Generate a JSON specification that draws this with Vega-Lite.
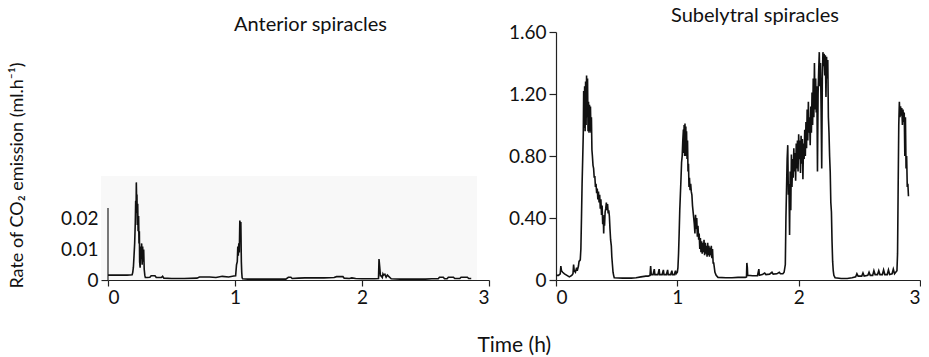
{
  "$schema": "https://vega.github.io/schema/vega-lite/v6.json",
  "padding": {"left": 7, "top": 6, "right": 0, "bottom": 0},
  "config": {
    "font": "Lato",
    "view": {"stroke": null},
    "axis": {"domainColor": "#222", "tickColor": "#222", "domainWidth": 1.2, "tickWidth": 1.2, "labelColor": "#111", "labelFontSize": 19, "labelFont": "Lato", "grid": false, "tickSize": 7, "labelPadding": 3, "titleColor": "#111", "titleFontWeight": "normal", "titleFontSize": 18, "titleFont": "Lato"},
    "axisX": {"tickSize": 6, "labelPadding": 2},
    "title": {"fontSize": 20, "fontWeight": "normal", "color": "#111", "font": "Lato"}
  },
  "datasets": {
    "bg": [{"t": -0.055, "t2": 2.905, "v": 0, "v2": 0.0341}],
    "yline": [{"t": 0, "v": 0, "v2": 0.0236}],
    "anterior": [
      {"t":0,"v":0.0016},{"t":0.05,"v":0.0016},{"t":0.1,"v":0.0016},{"t":0.15,"v":0.0016},{"t":0.19,"v":0.0017},{"t":0.195,"v":0.0025},{"t":0.2,"v":0.0042},{"t":0.205,"v":0.008},{"t":0.21,"v":0.012},{"t":0.215,"v":0.019},{"t":0.218,"v":0.026},{"t":0.221,"v":0.022},{"t":0.223,"v":0.032},{"t":0.226,"v":0.025},{"t":0.228,"v":0.028},{"t":0.231,"v":0.018},{"t":0.234,"v":0.025},{"t":0.237,"v":0.016},{"t":0.241,"v":0.021},{"t":0.244,"v":0.012},{"t":0.247,"v":0.016},{"t":0.249,"v":0.006},{"t":0.253,"v":0.004},{"t":0.257,"v":0.011},{"t":0.261,"v":0.007},{"t":0.265,"v":0.012},{"t":0.269,"v":0.005},{"t":0.273,"v":0.011},{"t":0.277,"v":0.006},{"t":0.281,"v":0.01},{"t":0.285,"v":0.0036},{"t":0.29,"v":0.0015},{"t":0.294,"v":0.0008},{"t":0.31,"v":0.0008},{"t":0.33,"v":0.0009},{"t":0.34,"v":0.0014},{"t":0.37,"v":0.0014},{"t":0.38,"v":0.0008},{"t":0.42,"v":0.0008},{"t":0.43,"v":0.0012},{"t":0.44,"v":0.0006},{"t":0.5,"v":0.0005},{"t":0.6,"v":0.0005},{"t":0.7,"v":0.0006},{"t":0.72,"v":0.001},{"t":0.8,"v":0.001},{"t":0.85,"v":0.0008},{"t":0.9,"v":0.0012},{"t":0.95,"v":0.001},{"t":0.99,"v":0.0013},{"t":1.005,"v":0.0014},{"t":1.012,"v":0.005},{"t":1.018,"v":0.006},{"t":1.022,"v":0.011},{"t":1.026,"v":0.008},{"t":1.03,"v":0.012},{"t":1.034,"v":0.009},{"t":1.038,"v":0.0195},{"t":1.042,"v":0.018},{"t":1.046,"v":0.019},{"t":1.05,"v":0.006},{"t":1.053,"v":0.0025},{"t":1.056,"v":0.0008},{"t":1.06,"v":0.0004},{"t":1.1,"v":0.0003},{"t":1.2,"v":0.0003},{"t":1.3,"v":0.0003},{"t":1.4,"v":0.0003},{"t":1.42,"v":0.0009},{"t":1.44,"v":0.0009},{"t":1.45,"v":0.0005},{"t":1.5,"v":0.0006},{"t":1.55,"v":0.0007},{"t":1.6,"v":0.0007},{"t":1.65,"v":0.0007},{"t":1.7,"v":0.0007},{"t":1.78,"v":0.0008},{"t":1.8,"v":0.0011},{"t":1.85,"v":0.0011},{"t":1.86,"v":0.0006},{"t":1.9,"v":0.0005},{"t":1.92,"v":0.0007},{"t":1.95,"v":0.0005},{"t":2.0,"v":0.0004},{"t":2.1,"v":0.0004},{"t":2.13,"v":0.0005},{"t":2.134,"v":0.0069},{"t":2.138,"v":0.005},{"t":2.141,"v":0.0036},{"t":2.145,"v":0.0014},{"t":2.15,"v":0.0014},{"t":2.16,"v":0.0008},{"t":2.165,"v":0.002},{"t":2.17,"v":0.0016},{"t":2.18,"v":0.0019},{"t":2.19,"v":0.0009},{"t":2.2,"v":0.0016},{"t":2.21,"v":0.0012},{"t":2.23,"v":0.0004},{"t":2.3,"v":0.0003},{"t":2.4,"v":0.0003},{"t":2.5,"v":0.0003},{"t":2.55,"v":0.0004},{"t":2.6,"v":0.0004},{"t":2.61,"v":0.0009},{"t":2.64,"v":0.0009},{"t":2.65,"v":0.0004},{"t":2.67,"v":0.0004},{"t":2.68,"v":0.0009},{"t":2.72,"v":0.0009},{"t":2.73,"v":0.0005},{"t":2.77,"v":0.0005},{"t":2.78,"v":0.0009},{"t":2.83,"v":0.0009},{"t":2.84,"v":0.0005},{"t":2.86,"v":0.0005}
    ],
    "subelytral": [
      {"t":0,"v":0.03},{"t":0.02,"v":0.03},{"t":0.035,"v":0.04},{"t":0.04,"v":0.09},{"t":0.045,"v":0.06},{"t":0.055,"v":0.05},{"t":0.07,"v":0.04},{"t":0.09,"v":0.03},{"t":0.11,"v":0.02},{"t":0.13,"v":0.03},{"t":0.14,"v":0.04},{"t":0.145,"v":0.1},{"t":0.15,"v":0.06},{"t":0.16,"v":0.05},{"t":0.17,"v":0.08},{"t":0.175,"v":0.06},{"t":0.185,"v":0.09},{"t":0.19,"v":0.12},{"t":0.2,"v":0.13},{"t":0.205,"v":0.2},{"t":0.21,"v":0.4},{"t":0.215,"v":0.62},{"t":0.22,"v":0.78},{"t":0.225,"v":0.95},{"t":0.228,"v":1.22},{"t":0.232,"v":0.98},{"t":0.236,"v":1.25},{"t":0.24,"v":0.96},{"t":0.244,"v":1.28},{"t":0.248,"v":1.0},{"t":0.252,"v":1.32},{"t":0.256,"v":1.05},{"t":0.26,"v":1.3},{"t":0.264,"v":0.96},{"t":0.268,"v":1.15},{"t":0.272,"v":0.95},{"t":0.276,"v":1.13},{"t":0.28,"v":0.96},{"t":0.284,"v":1.12},{"t":0.288,"v":0.95},{"t":0.292,"v":1.05},{"t":0.296,"v":0.84},{"t":0.3,"v":0.8},{"t":0.305,"v":0.74},{"t":0.31,"v":0.72},{"t":0.315,"v":0.66},{"t":0.32,"v":0.67},{"t":0.325,"v":0.6},{"t":0.33,"v":0.62},{"t":0.335,"v":0.56},{"t":0.34,"v":0.59},{"t":0.345,"v":0.52},{"t":0.35,"v":0.57},{"t":0.355,"v":0.5},{"t":0.36,"v":0.55},{"t":0.365,"v":0.46},{"t":0.37,"v":0.52},{"t":0.375,"v":0.42},{"t":0.38,"v":0.48},{"t":0.385,"v":0.36},{"t":0.39,"v":0.4},{"t":0.393,"v":0.3},{"t":0.397,"v":0.42},{"t":0.4,"v":0.35},{"t":0.405,"v":0.44},{"t":0.41,"v":0.46},{"t":0.415,"v":0.5},{"t":0.42,"v":0.45},{"t":0.425,"v":0.49},{"t":0.43,"v":0.43},{"t":0.435,"v":0.45},{"t":0.44,"v":0.41},{"t":0.445,"v":0.33},{"t":0.45,"v":0.26},{"t":0.456,"v":0.22},{"t":0.46,"v":0.15},{"t":0.465,"v":0.1},{"t":0.47,"v":0.05},{"t":0.475,"v":0.03},{"t":0.48,"v":0.015},{"t":0.55,"v":0.012},{"t":0.62,"v":0.012},{"t":0.66,"v":0.015},{"t":0.7,"v":0.02},{"t":0.74,"v":0.025},{"t":0.76,"v":0.025},{"t":0.775,"v":0.03},{"t":0.78,"v":0.09},{"t":0.785,"v":0.035},{"t":0.8,"v":0.035},{"t":0.81,"v":0.07},{"t":0.815,"v":0.035},{"t":0.84,"v":0.035},{"t":0.85,"v":0.07},{"t":0.855,"v":0.035},{"t":0.875,"v":0.035},{"t":0.885,"v":0.065},{"t":0.89,"v":0.035},{"t":0.91,"v":0.035},{"t":0.92,"v":0.065},{"t":0.925,"v":0.035},{"t":0.945,"v":0.035},{"t":0.955,"v":0.06},{"t":0.96,"v":0.035},{"t":0.975,"v":0.035},{"t":0.985,"v":0.06},{"t":0.99,"v":0.04},{"t":1.0,"v":0.05},{"t":1.005,"v":0.08},{"t":1.01,"v":0.17},{"t":1.015,"v":0.3},{"t":1.02,"v":0.45},{"t":1.025,"v":0.55},{"t":1.03,"v":0.65},{"t":1.035,"v":0.76},{"t":1.04,"v":0.8},{"t":1.045,"v":0.9},{"t":1.05,"v":0.97},{"t":1.053,"v":0.82},{"t":1.056,"v":1.0},{"t":1.06,"v":0.8},{"t":1.063,"v":1.01},{"t":1.066,"v":0.82},{"t":1.07,"v":0.99},{"t":1.073,"v":0.8},{"t":1.076,"v":0.96},{"t":1.08,"v":0.78},{"t":1.084,"v":0.9},{"t":1.088,"v":0.7},{"t":1.092,"v":0.75},{"t":1.096,"v":0.6},{"t":1.1,"v":0.66},{"t":1.105,"v":0.58},{"t":1.11,"v":0.62},{"t":1.115,"v":0.57},{"t":1.12,"v":0.55},{"t":1.125,"v":0.48},{"t":1.13,"v":0.44},{"t":1.135,"v":0.4},{"t":1.14,"v":0.36},{"t":1.145,"v":0.3},{"t":1.15,"v":0.42},{"t":1.155,"v":0.33},{"t":1.16,"v":0.4},{"t":1.165,"v":0.28},{"t":1.17,"v":0.35},{"t":1.176,"v":0.26},{"t":1.18,"v":0.3},{"t":1.185,"v":0.2},{"t":1.19,"v":0.27},{"t":1.195,"v":0.18},{"t":1.2,"v":0.25},{"t":1.205,"v":0.17},{"t":1.21,"v":0.24},{"t":1.215,"v":0.18},{"t":1.22,"v":0.26},{"t":1.225,"v":0.16},{"t":1.23,"v":0.24},{"t":1.235,"v":0.17},{"t":1.24,"v":0.22},{"t":1.245,"v":0.15},{"t":1.25,"v":0.24},{"t":1.255,"v":0.16},{"t":1.26,"v":0.22},{"t":1.265,"v":0.15},{"t":1.27,"v":0.21},{"t":1.275,"v":0.16},{"t":1.28,"v":0.22},{"t":1.285,"v":0.14},{"t":1.29,"v":0.2},{"t":1.295,"v":0.11},{"t":1.3,"v":0.11},{"t":1.31,"v":0.05},{"t":1.32,"v":0.03},{"t":1.335,"v":0.017},{"t":1.4,"v":0.015},{"t":1.45,"v":0.015},{"t":1.5,"v":0.017},{"t":1.56,"v":0.017},{"t":1.57,"v":0.02},{"t":1.573,"v":0.11},{"t":1.577,"v":0.08},{"t":1.58,"v":0.03},{"t":1.62,"v":0.027},{"t":1.66,"v":0.027},{"t":1.672,"v":0.07},{"t":1.676,"v":0.03},{"t":1.7,"v":0.035},{"t":1.72,"v":0.045},{"t":1.73,"v":0.035},{"t":1.76,"v":0.038},{"t":1.78,"v":0.05},{"t":1.79,"v":0.038},{"t":1.82,"v":0.04},{"t":1.84,"v":0.05},{"t":1.85,"v":0.04},{"t":1.87,"v":0.04},{"t":1.88,"v":0.05},{"t":1.89,"v":0.1},
      {"t":1.895,"v":0.4},{"t":1.9,"v":0.59},{"t":1.905,"v":0.78},{"t":1.91,"v":0.87},{"t":1.915,"v":0.55},{"t":1.92,"v":0.62},{"t":1.925,"v":0.29},{"t":1.93,"v":0.7},{"t":1.935,"v":0.45},{"t":1.94,"v":0.81},{"t":1.945,"v":0.6},{"t":1.95,"v":0.78},{"t":1.955,"v":0.66},{"t":1.96,"v":0.85},{"t":1.965,"v":0.7},{"t":1.97,"v":0.82},{"t":1.975,"v":0.64},{"t":1.98,"v":0.88},{"t":1.985,"v":0.72},{"t":1.99,"v":0.9},{"t":1.995,"v":0.7},{"t":2.0,"v":0.94},{"t":2.005,"v":0.78},{"t":2.01,"v":0.9},{"t":2.015,"v":0.69},{"t":2.02,"v":0.93},{"t":2.025,"v":0.75},{"t":2.03,"v":0.91},{"t":2.035,"v":0.65},{"t":2.04,"v":0.88},{"t":2.045,"v":0.78},{"t":2.05,"v":0.97},{"t":2.055,"v":0.8},{"t":2.06,"v":1.02},{"t":2.065,"v":0.85},{"t":2.07,"v":1.1},{"t":2.075,"v":0.9},{"t":2.08,"v":1.15},{"t":2.085,"v":0.95},{"t":2.09,"v":1.05},{"t":2.095,"v":0.87},{"t":2.1,"v":1.12},{"t":2.105,"v":0.95},{"t":2.11,"v":1.21},{"t":2.115,"v":1.0},{"t":2.12,"v":1.3},{"t":2.125,"v":1.05},{"t":2.13,"v":1.4},{"t":2.135,"v":1.1},{"t":2.14,"v":1.3},{"t":2.145,"v":1.08},{"t":2.15,"v":1.25},{"t":2.155,"v":0.7},{"t":2.16,"v":1.2},{"t":2.165,"v":1.35},{"t":2.17,"v":1.47},{"t":2.175,"v":1.25},{"t":2.18,"v":1.4},{"t":2.185,"v":1.1},{"t":2.19,"v":0.72},{"t":2.195,"v":1.3},{"t":2.2,"v":1.47},{"t":2.205,"v":1.38},{"t":2.21,"v":1.46},{"t":2.215,"v":1.32},{"t":2.22,"v":1.45},{"t":2.225,"v":1.18},{"t":2.23,"v":1.44},{"t":2.235,"v":1.3},{"t":2.24,"v":1.42},{"t":2.245,"v":1.05},{"t":2.25,"v":0.95},{"t":2.255,"v":0.8},{"t":2.26,"v":0.7},{"t":2.265,"v":0.5},{"t":2.27,"v":0.44},{"t":2.275,"v":0.25},{"t":2.28,"v":0.12},{"t":2.285,"v":0.06},{"t":2.29,"v":0.03},{"t":2.3,"v":0.015},
      {"t":2.35,"v":0.01},{"t":2.4,"v":0.01},{"t":2.44,"v":0.015},{"t":2.47,"v":0.02},{"t":2.48,"v":0.04},{"t":2.49,"v":0.025},{"t":2.52,"v":0.025},{"t":2.53,"v":0.045},{"t":2.54,"v":0.025},{"t":2.57,"v":0.03},{"t":2.58,"v":0.05},{"t":2.59,"v":0.03},{"t":2.61,"v":0.03},{"t":2.62,"v":0.06},{"t":2.63,"v":0.035},{"t":2.65,"v":0.035},{"t":2.66,"v":0.06},{"t":2.67,"v":0.035},{"t":2.69,"v":0.035},{"t":2.7,"v":0.065},{"t":2.71,"v":0.035},{"t":2.73,"v":0.035},{"t":2.74,"v":0.065},{"t":2.75,"v":0.035},{"t":2.77,"v":0.04},{"t":2.78,"v":0.07},{"t":2.79,"v":0.04},{"t":2.81,"v":0.06},{"t":2.815,"v":0.17},{"t":2.82,"v":0.6},{"t":2.825,"v":1.0},{"t":2.83,"v":1.15},{"t":2.835,"v":1.05},{"t":2.84,"v":1.12},{"t":2.845,"v":1.06},{"t":2.85,"v":1.11},{"t":2.855,"v":1.0},{"t":2.86,"v":1.1},{"t":2.865,"v":1.02},{"t":2.87,"v":1.08},{"t":2.875,"v":0.8},{"t":2.88,"v":1.05},{"t":2.885,"v":0.72},{"t":2.89,"v":0.8},{"t":2.895,"v":0.6},{"t":2.9,"v":0.62},{"t":2.905,"v":0.54}
    ]
  },
  "title": {"text": "Time (h)", "orient": "bottom", "anchor": "middle", "offset": 28, "dx": 50, "fontSize": 21},
  "spacing": 18,
  "hconcat": [
    {
      "width": 381,
      "height": 248,
      "title": {"text": "Anterior spiracles", "offset": -3, "dx": 12},
      "encoding": {
        "x": {"field": "t", "type": "quantitative", "scale": {"domain": [0, 3], "nice": false, "zero": false},
              "axis": {"values": [0, 1, 2, 3], "format": "d", "title": null}},
        "y": {"field": "v", "type": "quantitative", "scale": {"domain": [0, 0.0813], "nice": false},
              "axis": {"values": [0, 0.01, 0.02], "domain": false, "labelExpr": "datum.value == 0 ? '0' : format(datum.value, '.2f')",
                       "title": "Rate of CO₂ emission (ml.h⁻¹)", "titleX": -82, "titleY": 143}}
      },
      "layer": [
        {"data": {"name": "bg"}, "mark": {"type": "rect", "color": "#f8f8f8"}, "encoding": {"x2": {"field": "t2"}, "y2": {"field": "v2"}}},
        {"data": {"name": "yline"}, "mark": {"type": "rule", "color": "#222", "strokeWidth": 1.2}, "encoding": {"y2": {"field": "v2"}}},
        {"data": {"name": "anterior"}, "mark": {"type": "line", "color": "#111", "strokeWidth": 1.6}, "encoding": {}}
      ]
    },
    {
      "width": 364,
      "height": 248,
      "title": {"text": "Subelytral spiracles", "offset": -3, "dx": 17},
      "data": {"name": "subelytral"},
      "mark": {"type": "line", "color": "#111", "strokeWidth": 1.6},
      "encoding": {
        "x": {"field": "t", "type": "quantitative", "scale": {"domain": [0, 3], "nice": false, "zero": false},
              "axis": {"values": [0, 1, 2, 3], "format": "d", "title": null}},
        "y": {"field": "v", "type": "quantitative", "scale": {"domain": [0, 1.6], "nice": false},
              "axis": {"values": [0, 0.4, 0.8, 1.2, 1.6], "labelExpr": "datum.value == 0 ? '0' : format(datum.value, '.2f')", "title": null}}
      }
    }
  ]
}
